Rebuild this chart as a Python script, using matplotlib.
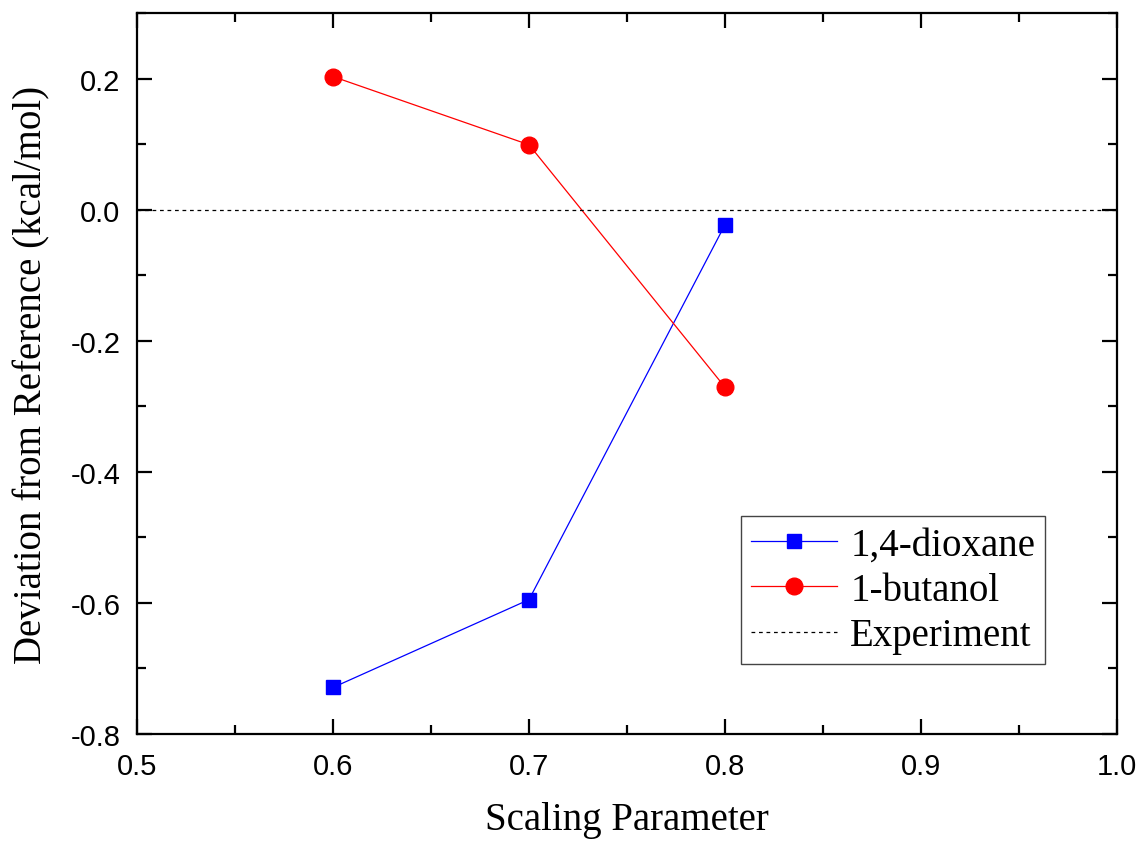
import matplotlib
matplotlib.use("Agg")
import matplotlib.pyplot as plt
from matplotlib.ticker import MultipleLocator

plt.rcParams["axes.unicode_minus"] = False

# Scaling parameter values and deviations (kcal/mol)
scaling = [0.6, 0.7, 0.8]
dioxane = [-0.729, -0.595, -0.023]
butanol = [0.203, 0.099, -0.271]
experiment = 0.0

fig = plt.figure(figsize=(11.39, 8.45), dpi=100)
ax = fig.add_axes([0.1203, 0.1302, 0.8604, 0.8532])

ax.plot(scaling, dioxane, color="blue", lw=0.9, marker="s", ms=10.5,
        mec="blue", mfc="blue", label="1,4-dioxane")
ax.plot(scaling, butanol, color="red", lw=0.9, marker="o", ms=12,
        mec="red", mfc="red", label="1-butanol")
ax.axhline(experiment, color="black", lw=0.9, ls=(0, (3, 3)), label="Experiment")

ax.set_xlim(0.5, 1.0)
ax.set_ylim(-0.8, 0.3)
ax.xaxis.set_major_locator(MultipleLocator(0.1))
ax.xaxis.set_minor_locator(MultipleLocator(0.05))
ax.yaxis.set_minor_locator(MultipleLocator(0.1))
ax.set_yticks([-0.8, -0.6, -0.4, -0.2, 0.0, 0.2])
ax.set_xticks([0.5, 0.6, 0.7, 0.8, 0.9, 1.0])

for s in ax.spines.values():
    s.set_linewidth(1.6)
ax.tick_params(which="both", direction="in", top=True, right=True, width=1.6)
ax.tick_params(which="major", length=11, labelsize=21)
ax.tick_params(which="minor", length=6.5)
ax.tick_params(axis="y", which="major", pad=12)
ax.tick_params(axis="x", which="major", pad=13)
for lab in ax.get_xticklabels() + ax.get_yticklabels():
    lab.set_fontfamily("Liberation Sans")

ax.set_xlabel("Scaling Parameter", family="Liberation Serif", fontsize=28, labelpad=15)
ax.set_ylabel("Deviation from Reference (kcal/mol)", family="Liberation Serif",
              fontsize=28, labelpad=14)

leg = ax.legend(loc="lower right", bbox_to_anchor=(0.9265, 0.097),
                prop={"family": "Liberation Serif", "size": 28},
                fancybox=False, framealpha=1, edgecolor="#444444",
                handlelength=2.2, handletextpad=0.35, borderpad=0.25,
                labelspacing=0.22, borderaxespad=0)
leg.get_frame().set_linewidth(1.0)

fig.savefig("out.png", dpi=100)
